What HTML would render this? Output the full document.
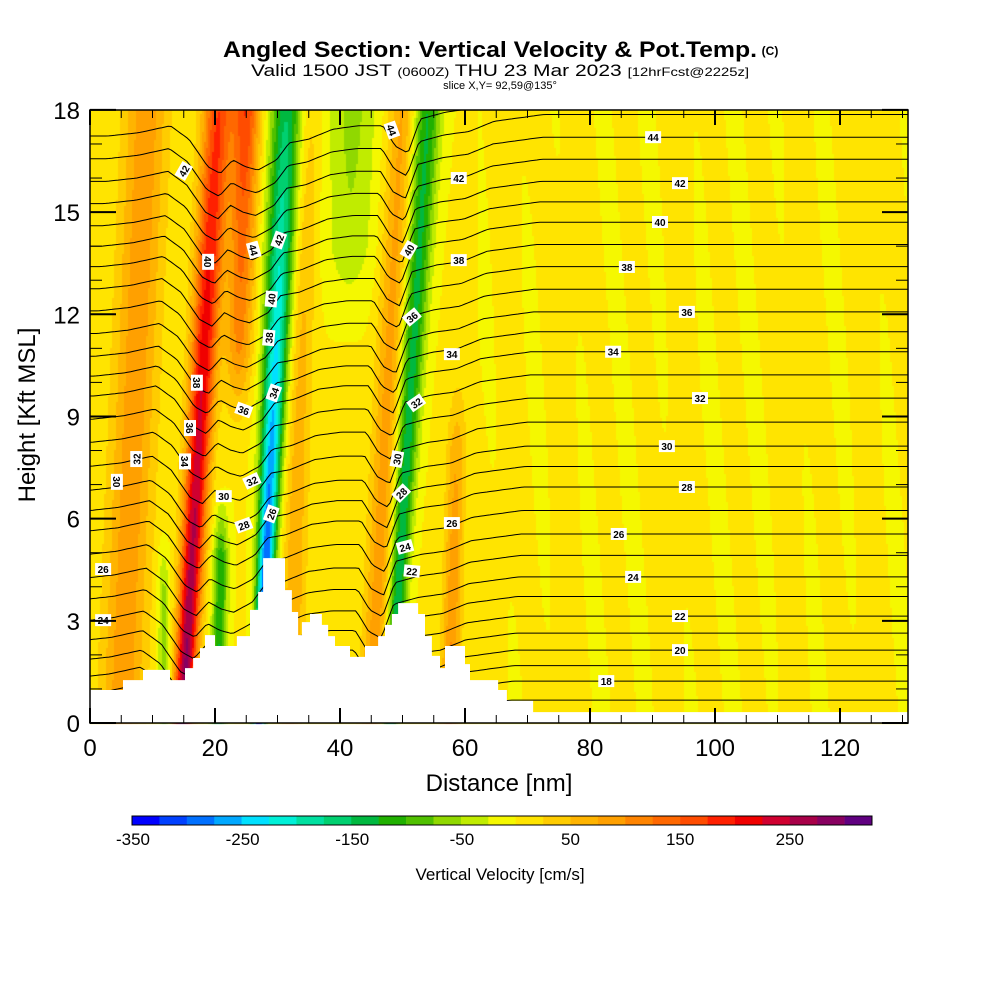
<!DOCTYPE html>
<html><head><meta charset="utf-8"><style>
html,body{margin:0;padding:0;background:#fff;width:1000px;height:1000px;overflow:hidden}
#wrap{position:relative;width:1000px;height:1000px}
canvas,svg{position:absolute;left:0;top:0}
text{font-family:"Liberation Sans",sans-serif}
</style></head><body>
<div id="wrap">
<canvas id="field" width="1000" height="1000"></canvas>
<svg id="svg" width="1000" height="1000" xmlns="http://www.w3.org/2000/svg">
<defs><clipPath id="plotclip"><rect x="90" y="110" width="818" height="613"/></clipPath></defs>
<g id="contours" clip-path="url(#plotclip)"></g>
<g id="terrain"></g>
<g id="labels"></g>
<g id="axes"></g>
<g id="titles">
<text x="490" y="57" font-size="22" font-weight="bold" text-anchor="middle" textLength="534" lengthAdjust="spacingAndGlyphs">Angled Section: Vertical Velocity &amp; Pot.Temp.</text>
<text x="770" y="55" font-size="12" font-weight="bold" text-anchor="middle">(C)</text>
<text x="500" y="76" font-size="17" text-anchor="middle" textLength="498" lengthAdjust="spacingAndGlyphs">Valid 1500 JST <tspan font-size="12">(0600Z)</tspan> THU 23 Mar 2023 <tspan font-size="12">[12hrFcst@2225z]</tspan></text>
<text x="500" y="89" font-size="11" text-anchor="middle">slice X,Y= 92,59@135°</text>
<text x="499" y="791" font-size="24" text-anchor="middle">Distance [nm]</text>
<text transform="translate(35,415) rotate(-90)" font-size="24" text-anchor="middle">Height [Kft MSL]</text>
<text x="500" y="880" font-size="17" text-anchor="middle">Vertical Velocity [cm/s]</text>
</g>
<g id="colorbar"></g>
</svg>
</div>
<script>
// ---- data ----
const xTicks=[0,20,40,60,80,100,120];
const yTicks=[0,3,6,9,12,15,18];
const cbLevels=[-350,-325,-300,-275,-250,-225,-200,-175,-150,-125,-100,-75,-50,-25,0,25,50,75,100,125,150,175,200,225,250,275,300];
const cbColors=["#0000ff","#0040ff","#0070ff","#00a8ff","#00e0ff","#00f0d8","#00e0a0","#00d070","#00b840","#20b000","#50c000","#90d800","#c0ec00","#f5f800","#ffe400","#ffcc00","#ffb400","#ffa000","#ff8400","#ff6800","#ff4c00","#ff2000","#f00000","#d00030","#a80048","#880060","#600080"];
const cbTickLabels=[-350,-250,-150,-50,50,150,250];
// bands: center distance at h=0 and h=18, amplitude (cm/s) at h=0 and h=18, width (nm)
const bandD0=[5,14.8,22,20.5,27.0,32,48,45,57.5,40,75,93,112,124,12,65];
const bandD18=[9,20.5,25,22,31.5,35,54,50,60,42,77,95,113,125,11,68];
const bandA0=[90,290,0,-140,-360,80,-160,90,110,0,12,12,12,12,-80,10];
const bandA18=[90,170,170,-40,-150,40,-130,80,20,-60,12,12,12,12,0,10];
const bandW0=[3.5,1.6,2.0,1.2,1.0,1.8,1.3,2.0,1.5,4,2,2,2,2,1,2];
const bandW18=[3.5,2.4,2.2,1.2,2.6,2.0,2.2,2.2,1.5,4,2,2,2,2,1,2];
const baseVel=2;
// potential temperature baseline profile
const thetaRef=[14,18,20,22,24,26,28,30,32,34,36,38,40,42,44,47];
const heightRef=[-1,1.23,2.14,3.14,4.29,5.55,6.93,8.13,9.54,10.9,12.07,13.4,14.7,15.9,17.2,19.2];
const contourLevels=[];for(let t=15;t<=46;t++)contourLevels.push(t);
// contour vertical displacement (kft) along distance
const dispX=[0,5,10,13,16,18,20,22,24,27,29,32,36,40,44,46,48,50,54,58,62,70,80,131];
const dispD=[-1.3,-1.2,-1.0,-1.4,-2.2,-2.4,-2.0,-2.2,-2.3,-2.0,-1.5,-1.4,-1.1,-1.0,-1.0,-1.6,-1.8,-0.8,-0.6,-0.5,-0.2,0,0,0];
// terrain steps (nm start, kft height)
const terrD=[0,5.28,8.48,12.8,15.2,16.5,17.6,18.4,20.0,23.5,25.6,26.9,27.7,31.2,32.3,33.3,33.9,35.2,37.1,38.1,39.2,41.6,44.0,46.1,47.2,48.3,49.3,52.5,53.6,54.7,56.0,56.8,60.0,60.8,65.3,66.7,70.9];
const terrH=[0.97,1.26,1.56,1.26,1.61,1.91,2.2,2.58,2.26,2.55,3.32,3.85,4.84,3.9,3.26,2.58,2.96,3.2,2.88,2.55,2.26,1.94,2.26,2.55,2.88,3.2,3.52,3.2,2.55,1.97,1.61,2.26,1.73,1.26,0.97,0.65,0.32];
// contour labels
const labVal=[44,42,42,44,40,40,38,38,36,36,34,34,32,30,32,30,28,26,26,24,40,36,32,30,28,24,22,26,34,38,42,44,42,40,38,36,34,32,30,28,26,24,22,20,18];
const labD=[48.3,15.0,30.2,26.2,18.9,29.0,28.6,17.1,24.6,16.0,29.4,15.2,7.4,4.3,25.9,21.4,24.6,29.0,2.1,2.1,51.0,51.5,52.2,49.1,49.8,50.4,51.5,57.9,57.9,59.0,59.0,90.1,94.4,91.2,85.9,95.5,83.7,97.6,92.3,95.5,84.6,86.9,94.4,94.4,82.6];
const labH=[17.41,16.21,14.18,13.89,13.54,12.45,11.31,9.99,9.19,8.66,9.69,7.68,7.75,7.08,7.11,6.66,5.81,6.14,4.52,3.02,13.89,11.92,9.4,7.75,6.75,5.17,4.46,5.87,10.83,13.59,16.0,17.2,15.85,14.71,13.39,12.07,10.9,9.54,8.13,6.93,5.55,4.29,3.14,2.14,1.23];
const labRot=[70,-60,-70,75,90,-85,-85,90,20,90,-70,90,-90,90,-25,0,-20,-70,0,0,-60,-40,-35,-80,-45,-15,5,0,0,0,0,0,0,0,0,0,0,0,0,0,0,0,0,0,0];

// ---- axes ----
const X=d=>90+d*6.25, Y=h=>723-h*34.06;
const Dinv=px=>(px-90)/6.25, Hinv=py=>(723-py)/34.06;
const NS="http://www.w3.org/2000/svg";
function mk(tag,attrs,parent){const e=document.createElementNS(NS,tag);for(const k in attrs)e.setAttribute(k,attrs[k]);parent.appendChild(e);return e;}
function lerp(xs,ys,x){if(x<=xs[0])return ys[0];for(let i=1;i<xs.length;i++){if(x<=xs[i]){const t=(x-xs[i-1])/(xs[i]-xs[i-1]);return ys[i-1]+t*(ys[i]-ys[i-1]);}}return ys[ys.length-1];}
function colorFor(v){let i=Math.floor((v+350)/25);i=Math.max(0,Math.min(cbColors.length-1,i));return cbColors[i];}
function velocity(d,h){
  let v=baseVel;const f=h/18;
  for(let i=0;i<bandD0.length;i++){
    const c=bandD0[i]+(bandD18[i]-bandD0[i])*f;
    const a=bandA0[i]+(bandA18[i]-bandA0[i])*f;
    const w=bandW0[i]+(bandW18[i]-bandW0[i])*f;
    let g=Math.exp(-Math.pow((d-c)/w,2));
    if(i===2)g*=Math.min(1,Math.max(0,(h-8)/3));
    if(i===3)g*=Math.min(1,Math.max(0,(7-h)/2));
    if(i===8)g*=Math.min(1,Math.max(0,(11-h)/3));
    if(i===9)g*=Math.min(1,Math.max(0,(h-11)/3));
    if(i===14)g*=Math.min(1,Math.max(0,(6-h)/2));
    v+=a*g;
  }
  if(d>62)v+=8*Math.sin(d*0.9+h*0.35);
  return v;
}
const ctx=document.getElementById('field').getContext('2d');
for(let px=90;px<908;px+=2){for(let py=110;py<723;py+=2){const d=Dinv(px+1),h=Hinv(py+1);ctx.fillStyle=colorFor(velocity(d,h));ctx.fillRect(px,py,2,2);}}
// contours
const cg=document.getElementById('contours');
function disp(d,h0){const ds=d-(h0-9)*0.3;let t=1;if(h0<1)t=Math.max(0,h0);return lerp(dispX,dispD,ds)*t;}
contourLevels.forEach(th=>{
  const h0=lerp(thetaRef,heightRef,th);
  let p="";
  for(let d=0;d<=131.5;d+=0.5){const h=h0+disp(d,h0);p+=(d===0?"M":"L")+X(d).toFixed(1)+","+Y(h).toFixed(1);}
  const el=mk('path',{d:p,fill:'none',stroke:'#000','stroke-width':1},cg);
  
  
});
// terrain
let tp="M"+X(0)+","+Y(0);
for(let i=0;i<terrD.length;i++){const x0=X(terrD[i]),x1=X(i+1<terrD.length?terrD[i+1]:131);tp+="L"+x0+","+Y(terrH[i])+"L"+x1+","+Y(terrH[i]);}
tp+="L"+X(131)+","+Y(0)+"Z";
const tEl=mk('path',{d:tp,fill:'#fff',stroke:'none'},document.getElementById('terrain'));


// labels
const lg=document.getElementById('labels');
for(let i=0;i<labVal.length;i++){
  const g=mk('g',{transform:`translate(${X(labD[i])},${Y(labH[i])}) rotate(${labRot[i]})`},lg);
  
  
  mk('rect',{x:-8,y:-6,width:16,height:12,fill:'#fff'},g);
  const t=mk('text',{x:0,y:4,'font-size':10,'font-weight':'bold','text-anchor':'middle'},g);t.textContent=labVal[i];
}
// axes
const ag=document.getElementById('axes');
const frame=mk('rect',{x:90,y:110,width:818,height:613,fill:'none',stroke:'#000','stroke-width':1.5},ag);


for(let d=0;d<=131;d+=5){const L=(d%20===0)?15:8;mk('line',{x1:X(d),x2:X(d),y1:723,y2:723-L,stroke:'#000','stroke-width':(d%20===0)?2:1},ag);mk('line',{x1:X(d),x2:X(d),y1:110,y2:110+L,stroke:'#000','stroke-width':(d%20===0)?2:1},ag);}
for(let h=0;h<=18;h++){const L=(h%3===0)?26:12;mk('line',{x1:90,x2:90+L,y1:Y(h),y2:Y(h),stroke:'#000','stroke-width':(h%3===0)?2:1},ag);mk('line',{x1:908,x2:908-L,y1:Y(h),y2:Y(h),stroke:'#000','stroke-width':(h%3===0)?2:1},ag);}
xTicks.forEach(v=>{const t=mk('text',{x:X(v),y:756,'font-size':24,'text-anchor':'middle'},ag);t.textContent=v;
  
  });
yTicks.forEach(v=>{const t=mk('text',{x:80,y:Y(v)+9,'font-size':24,'text-anchor':'end'},ag);t.textContent=v;
  
  });
// colorbar
const cbg=document.getElementById('colorbar');
const cbX=v=>132+(v+350)/675*740;
cbLevels.forEach((lv,i)=>{const r=mk('rect',{x:cbX(lv),y:816,width:cbX(lv+25)-cbX(lv)+0.3,height:9,fill:cbColors[i]},cbg);
  
  });
mk('rect',{x:132,y:816,width:740,height:9,fill:'none',stroke:'#000','stroke-width':1},cbg);
cbTickLabels.forEach(v=>{const t=mk('text',{x:cbX(v)+(v<0?1:0),y:845,'font-size':17,'text-anchor':'middle'},cbg);t.textContent=v;
  
  });
</script>
</body></html>
